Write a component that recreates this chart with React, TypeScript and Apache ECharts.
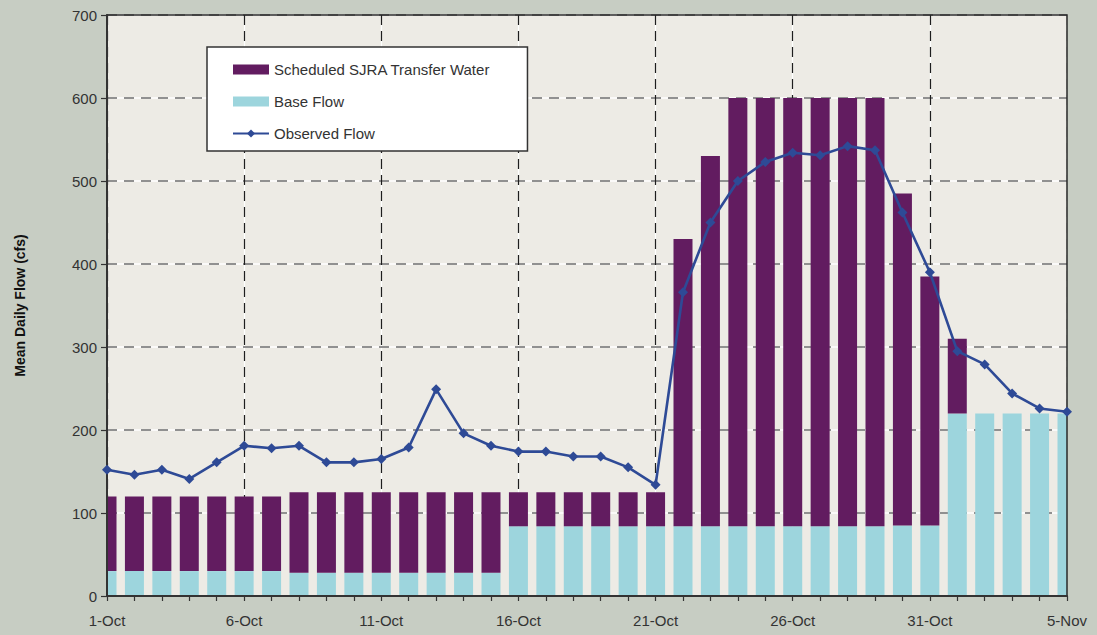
import React, { useEffect, useRef } from "react";
import * as echarts from "echarts";

const days: string[] = [
  "1-Oct", "2-Oct", "3-Oct", "4-Oct", "5-Oct", "6-Oct", "7-Oct", "8-Oct", "9-Oct", "10-Oct",
  "11-Oct", "12-Oct", "13-Oct", "14-Oct", "15-Oct", "16-Oct", "17-Oct", "18-Oct", "19-Oct", "20-Oct",
  "21-Oct", "22-Oct", "23-Oct", "24-Oct", "25-Oct", "26-Oct", "27-Oct", "28-Oct", "29-Oct", "30-Oct",
  "31-Oct", "1-Nov", "2-Nov", "3-Nov", "4-Nov", "5-Nov",
];

const baseFlow: number[] = [
  30, 30, 30, 30, 30, 30, 30, 28, 28, 28,
  28, 28, 28, 28, 28, 84, 84, 84, 84, 84,
  84, 84, 84, 84, 84, 84, 84, 84, 84, 85,
  85, 220, 220, 220, 220, 220,
];

const transferWater: number[] = [
  90, 90, 90, 90, 90, 90, 90, 97, 97, 97,
  97, 97, 97, 97, 97, 41, 41, 41, 41, 41,
  41, 346, 446, 516, 516, 516, 516, 516, 516, 400,
  300, 90, 0, 0, 0, 0,
];

const observedFlow: number[] = [
  152, 146, 152, 141, 161, 181, 178, 181, 161, 161,
  165, 179, 249, 196, 181, 174, 174, 168, 168, 155,
  134, 366, 450, 500, 523, 534, 531, 542, 537, 462,
  390, 295, 279, 244, 226, 222,
];

const yTicks = { min: 0, max: 700, interval: 100 };

const FONT = "'Liberation Sans', Arial, sans-serif";
const TEXT = "#333333";
const OUTER = "#C7CDC3";

export default function App() {
  const ref = useRef<HTMLDivElement>(null);

  useEffect(() => {
    if (!ref.current) return;
    const chart = echarts.init(ref.current, undefined, { renderer: "svg" });
    const gridL = 107, gridT = 15, gridR = 30, gridB = 39;
    const W = 1097, H = 635;
    const gw = W - gridL - gridR, gh = H - gridT - gridB;
    const hidden = { axisLine: { show: false }, axisTick: { show: false }, axisLabel: { show: false } };
    chart.setOption({
      animation: false,
      backgroundColor: OUTER,
      textStyle: { fontFamily: FONT },
      grid: {
        left: gridL, top: gridT, right: gridR, bottom: gridB,
        show: true, backgroundColor: "#EDEBE5", borderWidth: 0,
      },
      legend: {
        orient: "vertical",
        left: 207, top: 47,
        padding: [15, 37, 10, 25],
        itemGap: 17,
        itemWidth: 36, itemHeight: 10,
        backgroundColor: "#FFFFFF",
        borderColor: "#333333", borderWidth: 1.5,
        textStyle: { fontFamily: FONT, fontSize: 15, color: TEXT },
        z: 70,
        data: [
          { name: "Scheduled SJRA Transfer Water", icon: "rect" },
          { name: "Base Flow", icon: "rect" },
          "Observed Flow",
        ],
      },
      xAxis: [
        {
          type: "category", data: days, boundaryGap: false, z: 60,
          axisLine: { lineStyle: { color: "#333333", width: 2 } },
          axisTick: { show: true, interval: 0, length: 5, lineStyle: { color: "#333333", width: 1.2 } },
          axisLabel: { interval: 4, fontSize: 15, color: TEXT, fontFamily: FONT, margin: 17 },
          splitLine: { show: false },
        },
        {
          type: "category", data: days, boundaryGap: false, position: "bottom", z: 0, ...hidden,
          splitLine: { show: true, interval: 4, lineStyle: { color: "#FFFFFF", width: 1.2 } },
        },
        {
          type: "category", data: days, boundaryGap: false, position: "bottom", z: 1, ...hidden,
          splitLine: { show: true, interval: 4, lineStyle: { color: "#1E1E1E", width: 1.2, type: [10, 6] } },
        },
      ],
      yAxis: [
        {
          type: "value", min: yTicks.min, max: yTicks.max, interval: yTicks.interval, z: 60,
          name: "Mean Daily Flow (cfs)", nameLocation: "middle", nameGap: 80,
          nameTextStyle: { fontSize: 14, fontWeight: "bold", color: "#111111", fontFamily: FONT },
          axisLine: { show: true, lineStyle: { color: "#333333", width: 2 } },
          axisTick: { show: true, length: 6, lineStyle: { color: "#333333", width: 1.2 } },
          axisLabel: { fontSize: 15, color: TEXT, fontFamily: FONT, margin: 10 },
          splitLine: { show: false },
        },
        {
          type: "value", min: yTicks.min, max: yTicks.max, interval: yTicks.interval, z: 0, ...hidden,
          splitLine: { show: true, lineStyle: { color: "#FFFFFF", width: 1.5 } },
        },
        {
          type: "value", min: yTicks.min, max: yTicks.max, interval: yTicks.interval, z: 1, ...hidden,
          splitLine: { show: true, lineStyle: { color: "#6E6E6E", width: 1.5, type: [10, 7] } },
        },
      ],
      series: [
        {
          name: "Base Flow", type: "bar", stack: "flow", data: baseFlow,
          barWidth: 19, itemStyle: { color: "#9DD5DD" }, z: 2,
        },
        {
          name: "Scheduled SJRA Transfer Water", type: "bar", stack: "flow", data: transferWater,
          barWidth: 19, itemStyle: { color: "#621C60" }, z: 2,
        },
        {
          name: "Observed Flow", type: "line", data: observedFlow, z: 65,
          symbol: "diamond", symbolSize: 10, showSymbol: true,
          lineStyle: { color: "#2E4A96", width: 2.6 },
          itemStyle: { color: "#2E4A96" },
        },
      ],
      graphic: [
        {
          type: "rect", z: 50, silent: true,
          shape: { x: gridL - 14, y: gridT - 2, width: 14, height: gh + 4 },
          style: { fill: OUTER },
        },
        {
          type: "rect", z: 50, silent: true,
          shape: { x: gridL + gw, y: gridT - 2, width: 16, height: gh + 4 },
          style: { fill: OUTER },
        },
        {
          type: "rect", z: 55, silent: true,
          shape: { x: gridL, y: gridT, width: gw, height: gh },
          style: { fill: "none", stroke: "#2A2A2A", lineWidth: 1.5 },
        },
      ],
    });
    return () => chart.dispose();
  }, []);

  return (
    <div
      ref={ref}
      style={{ position: "fixed", left: 0, top: 0, width: 1097, height: 635 }}
    />
  );
}
